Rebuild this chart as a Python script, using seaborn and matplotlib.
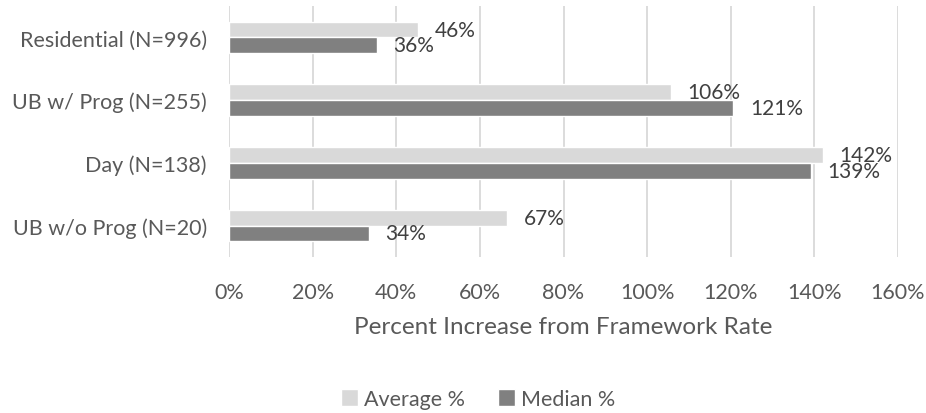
import numpy as np
import pandas as pd
import matplotlib
matplotlib.use('Agg')
import matplotlib.pyplot as plt
import seaborn as sns
from matplotlib.ticker import FuncFormatter

categories = ['Residential (N=996)', 'UB w/ Prog (N=255)', 'Day (N=138)', 'UB w/o Prog (N=20)']
average_pct = [45.3, 105.7, 142.0, 66.5]
median_pct = [35.3, 120.6, 139.2, 33.4]
average_labels = ['46%', '106%', '142%', '67%']
median_labels = ['36%', '121%', '139%', '34%']
series_names = ['Average %', 'Median %']
x_ticks = [0, 20, 40, 60, 80, 100, 120, 140, 160]

sns.set_theme(style='white')
plt.rcParams['font.family'] = ['Lato', 'DejaVu Sans']
TXT = '#595959'

df = pd.DataFrame({
    'category': categories * 2,
    'series': [series_names[0]] * 4 + [series_names[1]] * 4,
    'value': average_pct + median_pct,
})

fig = plt.figure(figsize=(9.26, 4.14), dpi=100)
ax = fig.add_axes([229 / 926, 1 - 258 / 414, (898 - 229) / 926, (258 - 7) / 414])
sns.barplot(data=df, y='category', x='value', hue='series', orient='h',
            palette=['#d9d9d9', '#808080'], width=0.5, gap=0, ax=ax,
            legend=True, errorbar=None, saturation=1)

for container, labels in zip(ax.containers, [average_labels, median_labels]):
    ax.bar_label(container, labels=labels, padding=12, fontsize=15, color='#404040')

ax.set_xlim(0, 160)
ax.set_xticks(x_ticks)
ax.xaxis.set_major_formatter(FuncFormatter(lambda v, p: '%d%%' % v))
ax.grid(axis='x', color='#d9d9d9', linewidth=1.3)
ax.set_axisbelow(True)
for s in ax.spines.values():
    s.set_visible(False)
ax.tick_params(axis='x', labelsize=15.5, colors=TXT, pad=18, length=0)
ax.tick_params(axis='y', labelsize=15.5, colors=TXT, pad=16, length=0)
ax.set_ylabel('')
ax.set_xlabel('Percent Increase from Framework Rate', fontsize=17.5, color=TXT, labelpad=10)

handles, labs = ax.get_legend_handles_labels()
ax.get_legend().remove()
fig.legend(handles, labs, loc='center', bbox_to_anchor=(478 / 926, 1 - 400 / 414), ncol=2,
           frameon=False, fontsize=15.5, labelcolor=TXT, handlelength=0.8, handleheight=0.8,
           handletextpad=0.3, columnspacing=1.5)

fig.savefig('out.png', dpi=100)
